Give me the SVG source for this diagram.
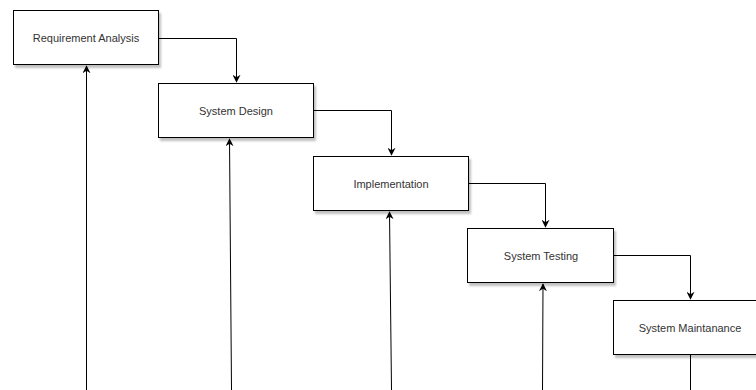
<svg xmlns="http://www.w3.org/2000/svg" width="756" height="390" viewBox="0 0 756 390">
<style>
.box{fill:#fff;stroke:#000;stroke-width:1}
.lbl{font-family:"Liberation Sans",Arial,sans-serif;font-size:11px;fill:#333;text-anchor:middle;dominant-baseline:central}
.edge{fill:none;stroke:#000;stroke-width:1}
</style>
<defs>
<filter id="sh" x="-10%" y="-10%" width="130%" height="140%">
<feGaussianBlur in="SourceAlpha" stdDeviation="1.2"/>
<feOffset dx="2" dy="3" result="b"/>
<feComponentTransfer><feFuncA type="linear" slope="0.25"/></feComponentTransfer>
<feMerge><feMergeNode/><feMergeNode in="SourceGraphic"/></feMerge>
</filter>
<marker id="ah" viewBox="0 0 10 10" refX="9" refY="5" markerWidth="8" markerHeight="8" markerUnits="userSpaceOnUse" orient="auto">
<path d="M0,0 L10,5 L0,10 L3,5 Z" fill="#000"/>
</marker>
</defs>
<rect width="756" height="390" fill="#fff"/>
<g id="n1"><rect class="box" x="13.5" y="10.5" width="145" height="54" filter="url(#sh)"/><text class="lbl" x="86" y="37.5">Requirement Analysis</text></g>
<g id="n2"><rect class="box" x="158.5" y="83.5" width="155" height="54" filter="url(#sh)"/><text class="lbl" x="236" y="110.5">System Design</text></g>
<g id="n3"><rect class="box" x="313.5" y="156.5" width="155" height="54" filter="url(#sh)"/><text class="lbl" x="391" y="183.5">Implementation</text></g>
<g id="n4"><rect class="box" x="467.5" y="228.5" width="146" height="54" filter="url(#sh)"/><text class="lbl" x="541" y="255.5">System Testing</text></g>
<g id="n5"><rect class="box" x="613.5" y="300.5" width="155" height="54" filter="url(#sh)"/><text class="lbl" x="690" y="327.5">System Maintanance</text></g>
<g id="edges">
<path class="edge" d="M158.5,38.5 H236.5 V82" marker-end="url(#ah)"/>
<path class="edge" d="M313.5,110.5 H391.5 V155" marker-end="url(#ah)"/>
<path class="edge" d="M468.5,183.5 H545.5 V227" marker-end="url(#ah)"/>
<path class="edge" d="M613.5,255.5 H690.5 V299" marker-end="url(#ah)"/>
<path class="edge" d="M86.5,390 V66" marker-end="url(#ah)"/>
<path class="edge" d="M231.5,390 L229.5,139" marker-end="url(#ah)"/>
<path class="edge" d="M391.5,390 L389.5,212" marker-end="url(#ah)"/>
<path class="edge" d="M542.5,390 L543,284" marker-end="url(#ah)"/>
<path class="edge" d="M690.5,355 V390"/>
</g>
</svg>
